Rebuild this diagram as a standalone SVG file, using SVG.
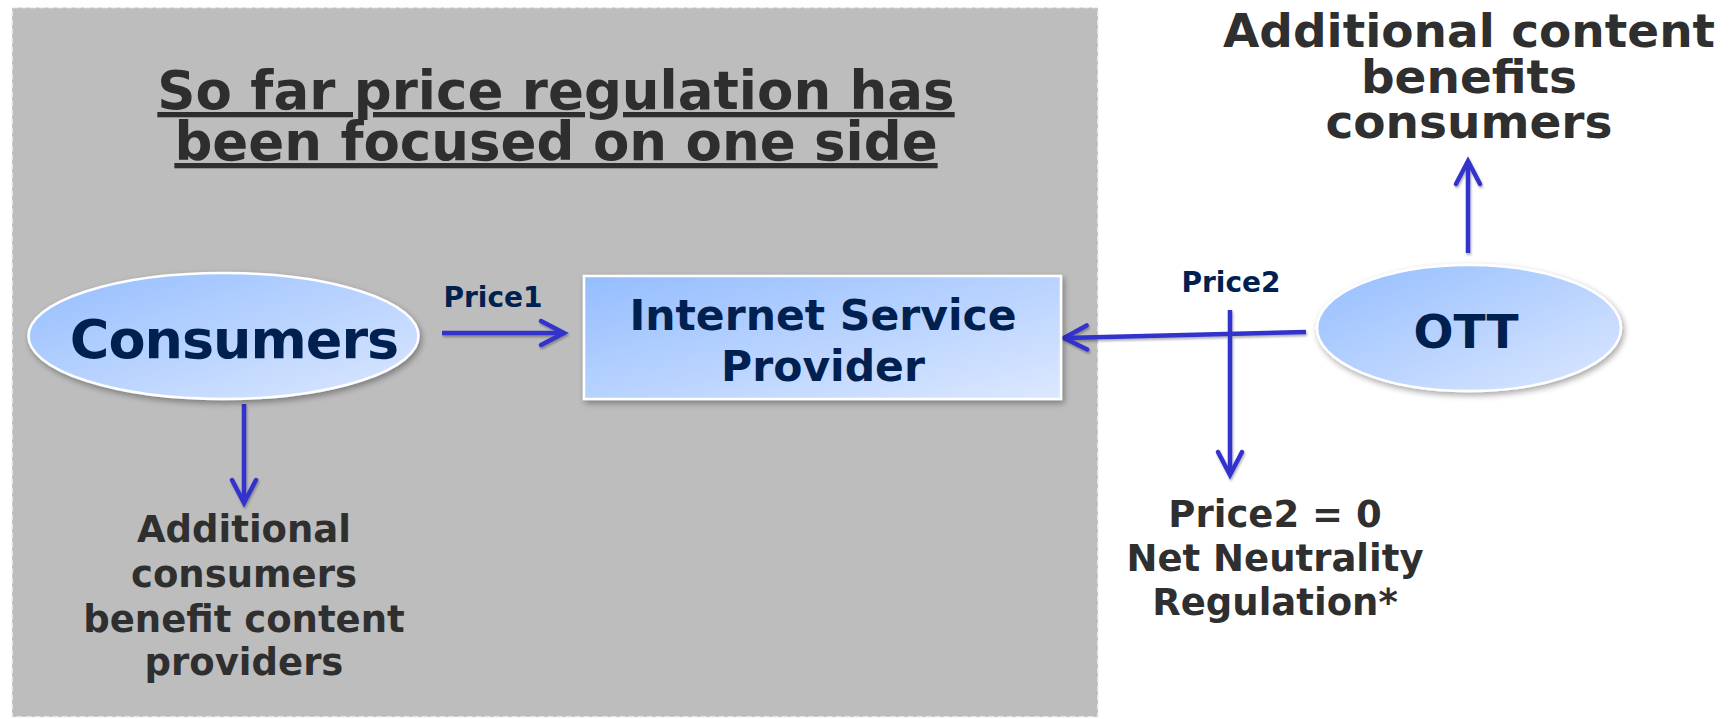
<svg xmlns="http://www.w3.org/2000/svg" width="1735" height="719" viewBox="0 0 1735 719">
<defs>
<linearGradient id="nodeFill" x1="0" y1="0" x2="1" y2="1">
<stop offset="0" stop-color="#94bdff"/>
<stop offset="1" stop-color="#dce8ff"/>
</linearGradient>
<filter id="shadow" x="-10%" y="-10%" width="130%" height="140%">
<feDropShadow dx="2" dy="3" stdDeviation="3" flood-color="#000" flood-opacity="0.35"/>
</filter>
<filter id="lineShadow" filterUnits="userSpaceOnUse" x="0" y="0" width="1735" height="719">
<feDropShadow dx="1" dy="2" stdDeviation="1.2" flood-color="#000" flood-opacity="0.3"/>
</filter>
<marker id="arrow" viewBox="0 0 30 30" refX="26" refY="15" markerWidth="30" markerHeight="30" markerUnits="userSpaceOnUse" orient="auto" overflow="visible">
<path d="M3,3 L26,15 L3,27" fill="none" stroke="#3333cc" stroke-width="4.5" stroke-linecap="round" stroke-linejoin="miter"/>
</marker>
<style>
.bold{font-family:"DejaVu Sans","Liberation Sans",sans-serif;font-weight:bold;}
.title{font-size:53px;fill:#2e2e2e;text-anchor:middle;text-decoration:underline;}
.note{fill:#2f2f2f;text-anchor:middle;}
.nodeText{fill:#002050;text-anchor:middle;}
.price{font-size:28px;fill:#002050;text-anchor:middle;}
.node{fill:url(#nodeFill);stroke:#ffffff;stroke-width:2.5;filter:url(#shadow);}
.conn{fill:none;stroke:#3333cc;stroke-width:4.5;marker-end:url(#arrow);}
</style>
</defs>
<rect width="1735" height="719" fill="#ffffff"/>
<g id="region">
<rect x="12" y="7.5" width="1086" height="709.5" fill="#bdbdbd" stroke="#f2f2f2" stroke-width="1.5" stroke-dasharray="6 3"/>
<text class="bold title" x="556" y="109">So far price regulation has</text>
<text class="bold title" x="556" y="160">been focused on one side</text>
</g>
<g id="connectors" filter="url(#lineShadow)">
<line class="conn" x1="442" y1="333" x2="564" y2="333"/>
<line class="conn" x1="244" y1="404" x2="244" y2="503"/>
<line class="conn" x1="1306" y1="332" x2="1064" y2="338"/>
<line class="conn" x1="1230" y1="310" x2="1230" y2="475"/>
<line class="conn" x1="1468" y1="253" x2="1468" y2="161"/>
</g>
<g id="price1">
<text class="bold price" x="493" y="307">Price1</text>
</g>
<g id="price2">
<text class="bold price" x="1231" y="292">Price2</text>
</g>
<g id="consumers">
<ellipse class="node" cx="223.5" cy="336" rx="195" ry="63"/>
<text class="bold nodeText" x="234" y="358" font-size="54" letter-spacing="-1">Consumers</text>
</g>
<g id="isp">
<rect class="node" x="584" y="276" width="477" height="123"/>
<text class="bold nodeText" x="823" y="330" font-size="42.5">Internet Service</text>
<text class="bold nodeText" x="823" y="381" font-size="42.5">Provider</text>
</g>
<g id="ott">
<ellipse class="node" cx="1469" cy="328" rx="152" ry="63"/>
<text class="bold nodeText" x="1466" y="348" font-size="47">OTT</text>
</g>
<g id="consumerBenefit">
<text class="bold note" font-size="37" x="244" y="542">Additional</text>
<text class="bold note" font-size="37" x="244" y="587">consumers</text>
<text class="bold note" font-size="37" x="244" y="632">benefit content</text>
<text class="bold note" font-size="37" x="244" y="675">providers</text>
</g>
<g id="contentBenefit">
<text class="bold note" font-size="47" x="1469" y="47">Additional content</text>
<text class="bold note" font-size="47" x="1469" y="93">benefits</text>
<text class="bold note" font-size="47" x="1469" y="138">consumers</text>
</g>
<g id="netNeutrality">
<text class="bold note" font-size="37" x="1275" y="527">Price2 = 0</text>
<text class="bold note" font-size="37" x="1275" y="571">Net Neutrality</text>
<text class="bold note" font-size="37" x="1275" y="615">Regulation*</text>
</g>
</svg>
